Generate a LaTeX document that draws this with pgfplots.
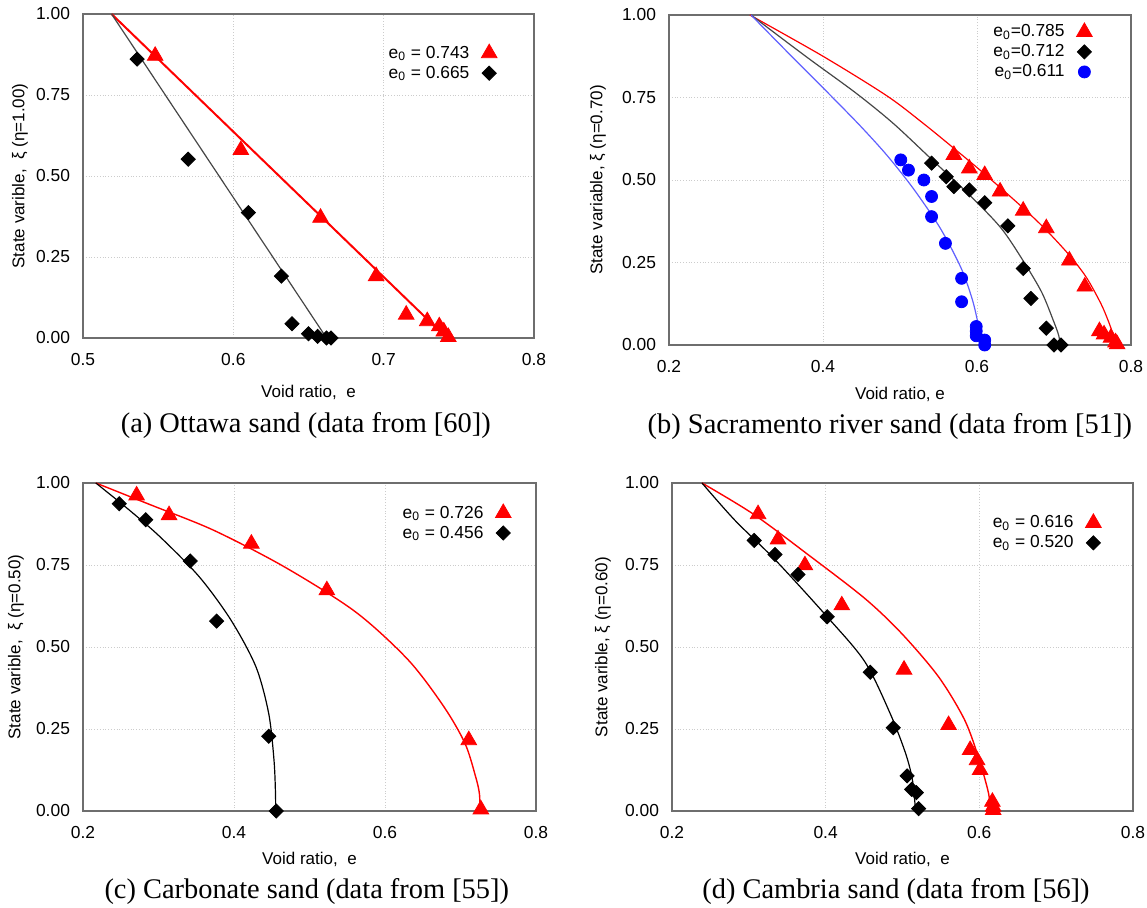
\documentclass[border=0pt]{standalone}
\usepackage{fontspec}
\setmainfont{Liberation Sans}
\newfontfamily\capfont{Liberation Serif}
\usepackage{pgfplots}
\pgfplotsset{compat=1.18}

\definecolor{frame}{RGB}{110,110,110}
\definecolor{lblue}{RGB}{95,95,255}
\definecolor{dgray}{RGB}{70,70,70}

\pgfplotsset{
 panel/.style={
  scale only axis, clip=false,
  axis line style={draw=frame, line width=0.7pt},
  grid=major, grid style={densely dotted, draw=gray!40, line width=0.4pt},
  major tick length=0pt,
  ymin=0, ymax=1, ytick={0,0.25,0.5,0.75,1},
  xmin=0.2, xmax=0.8, xtick={0.2,0.4,0.6,0.8},
  /pgf/number format/assume math mode=true,
  yticklabel style={/pgf/number format/fixed, /pgf/number format/fixed zerofill, /pgf/number format/precision=2, font=\fontsize{8.7}{10}\selectfont, xshift=-3pt},
  xticklabel style={/pgf/number format/fixed, /pgf/number format/fixed zerofill, /pgf/number format/precision=1, font=\fontsize{8.7}{10}\selectfont, yshift=-4pt},
  label style={font=\fontsize{8.5}{10}\selectfont},
  every axis title/.style={font=\capfont\fontsize{14.2}{16}\selectfont, anchor=base},
  legend style={draw=none, fill=none, inner sep=0pt, outer sep=0pt, anchor=north east, font=\fontsize{8.7}{10}\selectfont, row sep=0pt, column sep=5.5pt, nodes={text height=7pt, text depth=2pt, inner sep=0.5pt}},
  legend plot pos=right, legend cell align=right,
  legend image code/.code={\draw[mark repeat=2,mark phase=2,##1] plot coordinates {(0cm,0cm)(0.3cm,0cm)(0.6cm,0cm)};},
 },
 tri/.style={only marks, mark=triangle*, mark size=4.5pt, color=red},
 dia/.style={only marks, mark=square*, mark options={rotate=45}, mark size=2.5pt, color=black},
 cir/.style={only marks, mark=*, mark size=3pt, color=blue},
}

\begin{document}
\begin{tikzpicture}
\useasboundingbox (0,0) rectangle (573.5pt,453.5pt);

% ---------------- (a) ----------------
\begin{axis}[panel, at={(41.5pt,284.5pt)}, anchor=south west, width=225.5pt, height=162pt,
  xmin=0.5, xmax=0.8, xtick={0.5,0.6,0.7,0.8},
  xlabel={Void ratio,\ \ e}, ylabel={State varible,\ \ ξ (η=1.00)},
  xlabel style={at={(axis description cs:0.5,-0.185)}, anchor=base},
  ylabel style={at={(axis description cs:-0.14,0.5)}, anchor=center},
  title={(a) Ottawa sand (data from [60])},
  title style={at={(axis description cs:0.494,-0.293)}},
  legend style={at={(axis description cs:0.918,0.910)}}]
\addplot[red, line width=1pt, forget plot] coordinates {(0.519,1) (0.742,0)};
\addplot[dgray, line width=0.6pt, forget plot] coordinates {(0.519,1) (0.662,0)};
\addplot[tri] coordinates {(0.548,0.871) (0.605,0.580) (0.658,0.371) (0.695,0.191) (0.715,0.072) (0.729,0.052) (0.737,0.036) (0.740,0.020) (0.743,0.003)};
\addlegendentry{e\textsubscript{0} = 0.743}
\addplot[dia] coordinates {(0.536,0.861) (0.570,0.552) (0.610,0.387) (0.632,0.191) (0.639,0.044) (0.650,0.013) (0.656,0.005) (0.662,0.0) (0.665,0.0)};
\addlegendentry{e\textsubscript{0} = 0.665}
\end{axis}

% ---------------- (b) ----------------
\begin{axis}[panel, at={(334.5pt,281pt)}, anchor=south west, width=231pt, height=165pt,
  xlabel={Void ratio, e}, ylabel={State variable, ξ (η=0.70)},
  xlabel style={at={(axis description cs:0.5,-0.164)}, anchor=base},
  ylabel style={at={(axis description cs:-0.154,0.5)}, anchor=center},
  title={(b) Sacramento river sand (data from [51])},
  title style={at={(axis description cs:0.478,-0.267)}},
  legend style={at={(axis description cs:0.916,0.979)}}]
\addplot[red, line width=0.6pt, smooth, tension=0.5, forget plot] coordinates {(0.305,1) (0.40,0.875) (0.483,0.755) (0.53,0.672) (0.57,0.596) (0.61,0.518) (0.66,0.415) (0.69,0.348) (0.72,0.272) (0.742,0.205) (0.761,0.125) (0.771,0.07) (0.777,0.03) (0.781,0)};
\addplot[dgray, line width=0.6pt, smooth, tension=0.5, forget plot] coordinates {(0.3065,1) (0.378,0.874) (0.443,0.763) (0.491,0.672) (0.54,0.565) (0.59,0.455) (0.631,0.355) (0.660,0.255) (0.684,0.16) (0.699,0.075) (0.706,0.03) (0.708,0)};
\addplot[lblue, line width=0.6pt, smooth, tension=0.5, forget plot] coordinates {(0.3065,1) (0.357,0.88) (0.404,0.77) (0.448,0.665) (0.483,0.575) (0.517,0.475) (0.552,0.355) (0.579,0.235) (0.593,0.145) (0.600,0.08) (0.603,0.035) (0.604,0)};
\addplot[tri] coordinates {(0.570,0.576) (0.590,0.535) (0.610,0.515) (0.630,0.465) (0.660,0.407) (0.690,0.354) (0.720,0.256) (0.740,0.177) (0.759,0.042) (0.765,0.032) (0.774,0.022) (0.780,0.008) (0.782,0.002)};
\addlegendentry{e\textsubscript{0}=0.785}
\addplot[dia] coordinates {(0.541,0.551) (0.560,0.510) (0.570,0.480) (0.590,0.470) (0.610,0.431) (0.640,0.361) (0.660,0.232) (0.670,0.141) (0.690,0.051) (0.700,0) (0.709,0)};
\addlegendentry{e\textsubscript{0}=0.712}
\addplot[cir] coordinates {(0.501,0.561) (0.511,0.530) (0.531,0.500) (0.541,0.450) (0.541,0.389) (0.559,0.308) (0.580,0.202) (0.580,0.131) (0.599,0.056) (0.599,0.042) (0.599,0.028) (0.610,0.015) (0.610,0.0)};
\addlegendentry{e\textsubscript{0}=0.611}
\end{axis}

% ---------------- (c) ----------------
\begin{axis}[panel, at={(41.5pt,48pt)}, anchor=south west, width=226.5pt, height=164pt,
  xlabel={Void ratio,\ \ e}, ylabel={State varible,\ \ ξ (η=0.50)},
  xlabel style={at={(axis description cs:0.5,-0.162)}, anchor=base},
  ylabel style={at={(axis description cs:-0.148,0.5)}, anchor=center},
  title={(c) Carbonate sand (data from [55])},
  title style={at={(axis description cs:0.494,-0.268)}},
  legend style={at={(axis description cs:0.945,0.939)}}]
\addplot[red, line width=0.7pt, smooth, tension=0.5, forget plot] coordinates {(0.217,1) (0.29,0.933) (0.373,0.856) (0.467,0.744) (0.561,0.607) (0.631,0.460) (0.678,0.318) (0.706,0.206) (0.720,0.105) (0.725,0.054) (0.726,0)};
\addplot[black, line width=0.6pt, smooth, tension=0.5, forget plot] coordinates {(0.217,1) (0.26,0.92) (0.302,0.836) (0.354,0.714) (0.396,0.582) (0.429,0.440) (0.446,0.297) (0.453,0.155) (0.455,0.05) (0.455,0)};
\addplot[tri] coordinates {(0.271,0.962) (0.314,0.902) (0.423,0.815) (0.523,0.673) (0.711,0.216) (0.727,0.005)};
\addlegendentry{e\textsubscript{0} = 0.726}
\addplot[dia] coordinates {(0.248,0.937) (0.283,0.888) (0.342,0.762) (0.377,0.579) (0.446,0.228) (0.456,0.0)};
\addlegendentry{e\textsubscript{0} = 0.456}
\end{axis}

% ---------------- (d) ----------------
\begin{axis}[panel, at={(336pt,48pt)}, anchor=south west, width=230.5pt, height=164pt,
  xlabel={Void ratio,\ \ e}, ylabel={State varible, ξ (η=0.60)},
  xlabel style={at={(axis description cs:0.5,-0.162)}, anchor=base},
  ylabel style={at={(axis description cs:-0.150,0.5)}, anchor=center},
  title={(d) Cambria sand (data from [56])},
  title style={at={(axis description cs:0.486,-0.268)}},
  legend style={at={(axis description cs:0.931,0.909)}}]
\addplot[red, line width=0.7pt, smooth, tension=0.5, forget plot] coordinates {(0.239,1) (0.306,0.905) (0.378,0.78) (0.451,0.648) (0.499,0.541) (0.547,0.409) (0.581,0.277) (0.600,0.155) (0.612,0.054) (0.614,0)};
\addplot[black, line width=0.6pt, smooth, tension=0.5, forget plot] coordinates {(0.239,1) (0.282,0.886) (0.335,0.764) (0.402,0.592) (0.451,0.455) (0.484,0.297) (0.504,0.176) (0.513,0.094) (0.517,0)};
\addplot[tri] coordinates {(0.312,0.905) (0.338,0.828) (0.373,0.749) (0.421,0.627) (0.502,0.431) (0.560,0.262) (0.588,0.186) (0.597,0.155) (0.601,0.125) (0.617,0.028) (0.618,0.013) (0.618,0.003)};
\addlegendentry{e\textsubscript{0} = 0.616}
\addplot[dia] coordinates {(0.307,0.825) (0.334,0.782) (0.364,0.721) (0.402,0.592) (0.458,0.423) (0.488,0.254) (0.506,0.107) (0.512,0.066) (0.518,0.056) (0.521,0.007)};
\addlegendentry{e\textsubscript{0} = 0.520}
\end{axis}
\end{tikzpicture}
\end{document}
